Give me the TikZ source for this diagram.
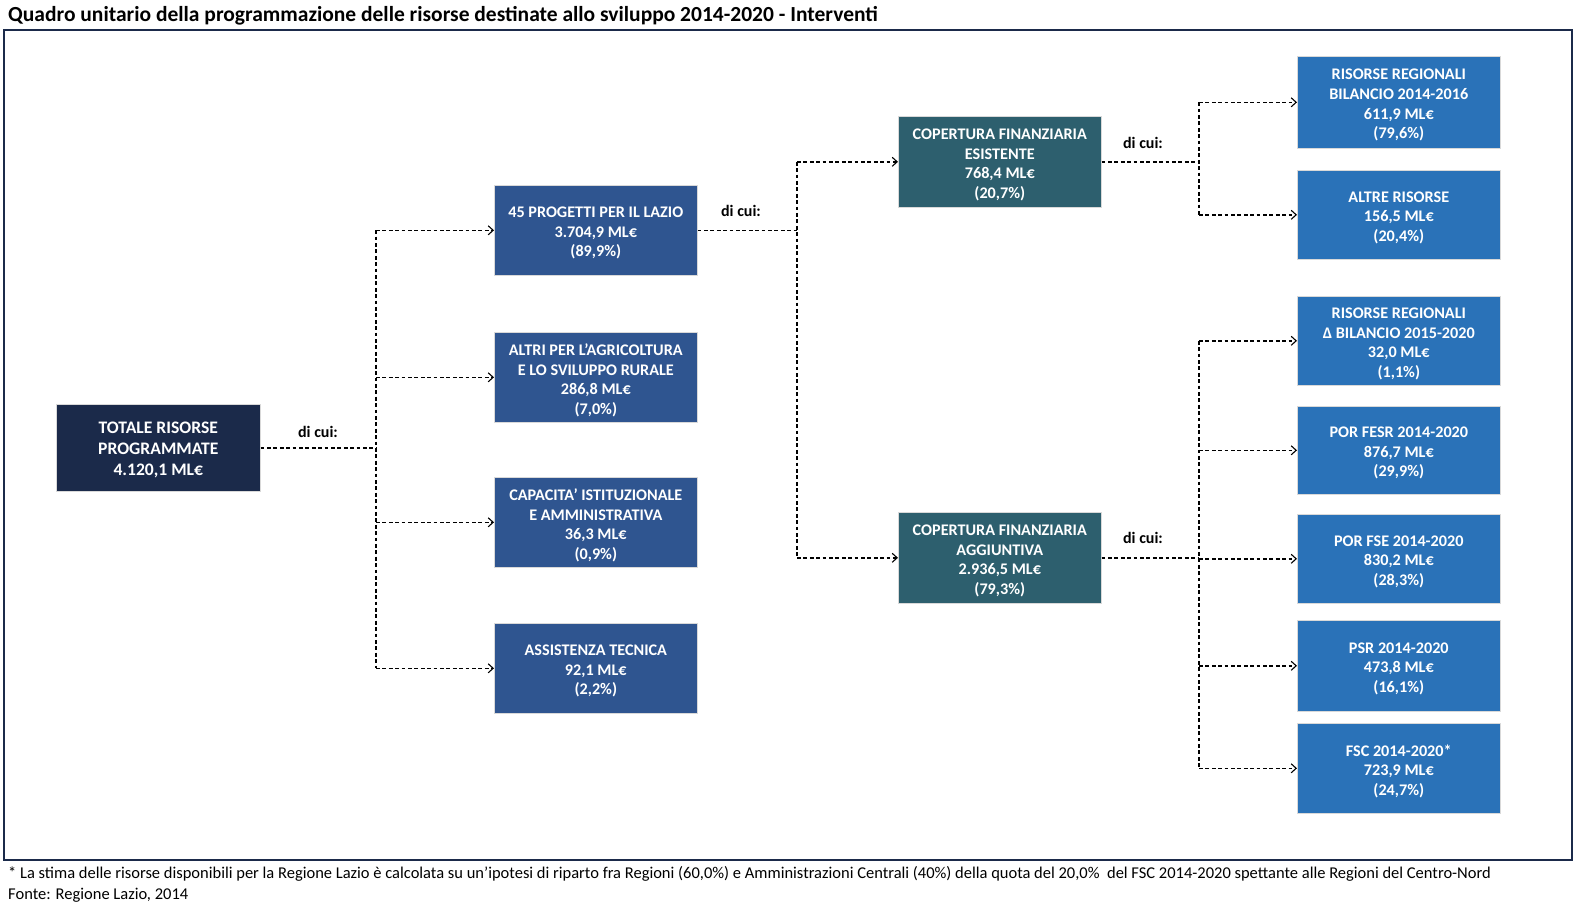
\documentclass[tikz,border=0pt]{standalone}
\usepackage{fontspec}
\setmainfont{Carlito}
\usetikzlibrary{arrows.meta}
\definecolor{cNavy}{HTML}{1B2A4A}
\definecolor{cBlue}{HTML}{2F5590}
\definecolor{cTeal}{HTML}{2D5F6E}
\definecolor{cLight}{HTML}{2A72B8}
\definecolor{cFrame}{HTML}{1B2A4A}
\tikzset{
  box/.style={draw=white!70!gray, line width=0.6pt, inner sep=0pt, anchor=north west},
  boxtext/.style={text=white, font=\fontsize{16.2}{19.6}\selectfont\bfseries, align=center, inner sep=0pt, yshift=-3pt},
  bigtext/.style={text=white, font=\fontsize{17.6}{21}\selectfont\bfseries, align=center, inner sep=0pt, yshift=-2pt},
  conn/.style={dashed, dash pattern=on 3.8pt off 2.6pt, line width=1.5pt, black},
  arr/.style={conn, -{Straight Barb[length=5pt,width=9pt,line width=1.1pt]}},
  dicui/.style={font=\fontsize{16}{18}\selectfont\bfseries, anchor=base}
}
\begin{document}
\begin{tikzpicture}[x=1pt,y=-1pt]
\useasboundingbox (0,0) rectangle (1577,909);
\node[anchor=base west, font=\fontsize{21.5}{24}\selectfont\bfseries, inner sep=0pt] (title) at (8,22) {Quadro unitario della programmazione delle risorse destinate allo sviluppo 2014-2020 - Interventi};
\draw[cFrame, line width=2.2pt] (4,30) rectangle (1572,860);
% column 1
\node[box, fill=cNavy, minimum width=204pt, minimum height=87pt, label={[bigtext]center:{TOTALE RISORSE\\PROGRAMMATE\\4.120,1 ML€}}] (tot) at (56,404) {};
% column 2
\node[box, fill=cBlue, minimum width=203pt, minimum height=90pt, label={[boxtext]center:{45 PROGETTI PER IL LAZIO\\3.704,9 ML€\\(89,9\%)}}] (p1) at (494,185) {};
\node[box, fill=cBlue, minimum width=203pt, minimum height=90pt, label={[boxtext]center:{ALTRI PER L'AGRICOLTURA\\E LO SVILUPPO RURALE\\286,8 ML€\\(7,0\%)}}] (p2) at (494,332) {};
\node[box, fill=cBlue, minimum width=203pt, minimum height=90pt, label={[boxtext]center:{CAPACITA' ISTITUZIONALE\\E AMMINISTRATIVA\\36,3 ML€\\(0,9\%)}}] (p3) at (494,477) {};
\node[box, fill=cBlue, minimum width=203pt, minimum height=90pt, label={[boxtext]center:{ASSISTENZA TECNICA\\92,1 ML€\\(2,2\%)}}] (p4) at (494,623) {};
% column 3
\node[box, fill=cTeal, minimum width=203pt, minimum height=91pt, label={[boxtext]center:{COPERTURA FINANZIARIA\\ESISTENTE\\768,4 ML€\\(20,7\%)}}] (c1) at (898,116) {};
\node[box, fill=cTeal, minimum width=203pt, minimum height=91pt, label={[boxtext]center:{COPERTURA FINANZIARIA\\AGGIUNTIVA\\2.936,5 ML€\\(79,3\%)}}] (c2) at (898,512) {};
% column 4
\node[box, fill=cLight, minimum width=203pt, minimum height=92pt, label={[boxtext]center:{RISORSE REGIONALI\\BILANCIO 2014-2016\\611,9 ML€\\(79,6\%)}}] (r1) at (1297,56) {};
\node[box, fill=cLight, minimum width=203pt, minimum height=89pt, label={[boxtext]center:{ALTRE RISORSE\\156,5 ML€\\(20,4\%)}}] (r2) at (1297,170) {};
\node[box, fill=cLight, minimum width=203pt, minimum height=89pt, label={[boxtext]center:{RISORSE REGIONALI\\Δ BILANCIO 2015-2020\\32,0 ML€\\(1,1\%)}}] (r3) at (1297,296) {};
\node[box, fill=cLight, minimum width=203pt, minimum height=88pt, label={[boxtext]center:{POR FESR 2014-2020\\876,7 ML€\\(29,9\%)}}] (r4) at (1297,406) {};
\node[box, fill=cLight, minimum width=203pt, minimum height=89pt, label={[boxtext]center:{POR FSE 2014-2020\\830,2 ML€\\(28,3\%)}}] (r5) at (1297,514) {};
\node[box, fill=cLight, minimum width=203pt, minimum height=91pt, label={[boxtext]center:{PSR 2014-2020\\473,8 ML€\\(16,1\%)}}] (r6) at (1297,620) {};
\node[box, fill=cLight, minimum width=203pt, minimum height=90pt, label={[boxtext]center:{FSC 2014-2020*\\723,9 ML€\\(24,7\%)}}] (r7) at (1297,723) {};
% junction coordinates
\coordinate (j1) at (376,0);
\coordinate (j2) at (797,0);
\coordinate (j3) at (1199,0);
% connectors level 1
\draw[conn] (tot.east) -- (tot.east -| j1);
\draw[conn] (p1.west -| j1) -- (p4.west -| j1);
\foreach \n in {p1,p2,p3,p4} \draw[arr] (\n.west -| j1) -- (\n.west);
\node[dicui] (d1) at (318,437) {di cui:};
% level 2
\draw[conn] (p1.east) -- (p1.east -| j2);
\draw[conn] (c1.west -| j2) -- (c2.west -| j2);
\foreach \n in {c1,c2} \draw[arr] (\n.west -| j2) -- (\n.west);
\node[dicui] (d2) at (741,217) {di cui:};
% level 3a
\draw[conn] (c1.east) -- (c1.east -| j3);
\draw[conn] (r1.west -| j3) -- (r2.west -| j3);
\foreach \n in {r1,r2} \draw[arr] (\n.west -| j3) -- (\n.west);
\node[dicui] (d3) at (1143,149) {di cui:};
% level 3b
\draw[conn] (c2.east) -- (c2.east -| j3);
\draw[conn] (r3.west -| j3) -- (r7.west -| j3);
\foreach \n in {r3,r4,r5,r6,r7} \draw[arr] (\n.west -| j3) -- (\n.west);
\node[dicui] (d4) at (1143,543) {di cui:};
% footnotes
\node[anchor=base west, inner sep=0pt, font=\fontsize{16.5}{18}\selectfont] (f1) at (8,878) {* La stima delle risorse disponibili per la Regione Lazio è calcolata su un'ipotesi di riparto fra Regioni (60,0\%) e Amministrazioni Centrali (40\%) della quota del 20,0\%\ \ del FSC 2014-2020 spettante alle Regioni del Centro-Nord};
\node[anchor=base west, inner sep=0pt, font=\fontsize{16.5}{18}\selectfont] (f2) at (8,899) {Fonte: Regione Lazio, 2014};
\end{tikzpicture}
\end{document}
